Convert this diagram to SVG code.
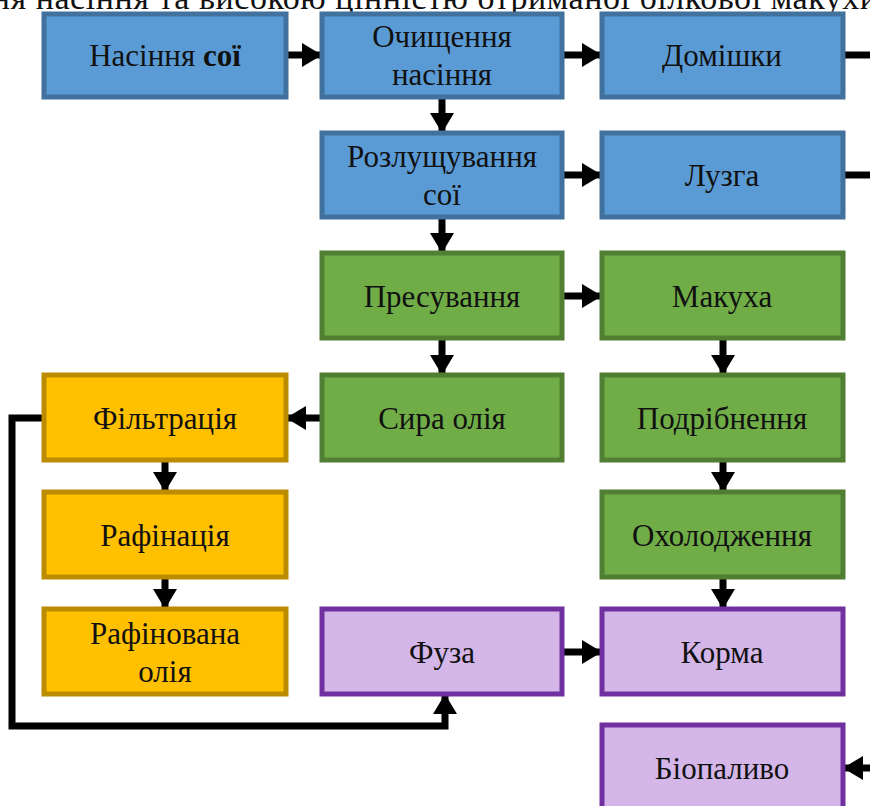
<svg xmlns="http://www.w3.org/2000/svg" width="870" height="806" viewBox="0 0 870 806">
<style>
  text { font-family: "Liberation Serif", "Times New Roman", serif; font-size: 31px; fill: #111111; text-anchor: middle; }
  .top { text-anchor: start; font-size: 34px; }
  .blue { fill: #5B9BD5; stroke: #41719C; stroke-width: 5; }
  .green { fill: #70AD47; stroke: #507E32; stroke-width: 5; }
  .gold { fill: #FFC000; stroke: #BC8C00; stroke-width: 5; }
  .lilac { fill: #D4B6E9; stroke: #7030A0; stroke-width: 5; }
  .conn { fill: none; stroke: #000000; stroke-width: 7; }
</style>
<defs>
  <marker id="ah" markerUnits="userSpaceOnUse" markerWidth="20" markerHeight="24" refX="20" refY="12" orient="auto">
    <path d="M0,0 L20,12 L0,24 Z" fill="#000000"/>
  </marker>
</defs>
<rect width="870" height="806" fill="#ffffff"/>
<text class="top" x="-27" y="9" textLength="905" lengthAdjust="spacing">ння насіння та високою цінністю отриманої білкової макухи</text>

<g id="connectors">
  <line class="conn" x1="286" y1="55" x2="322" y2="55" marker-end="url(#ah)"/>
  <line class="conn" x1="562" y1="55" x2="602" y2="55" marker-end="url(#ah)"/>
  <line class="conn" x1="843" y1="55" x2="870" y2="55"/>
  <line class="conn" x1="442" y1="97" x2="442" y2="133" marker-end="url(#ah)"/>
  <line class="conn" x1="562" y1="175" x2="602" y2="175" marker-end="url(#ah)"/>
  <line class="conn" x1="843" y1="175" x2="870" y2="175"/>
  <line class="conn" x1="442" y1="217" x2="442" y2="253" marker-end="url(#ah)"/>
  <line class="conn" x1="562" y1="296" x2="602" y2="296" marker-end="url(#ah)"/>
  <line class="conn" x1="442" y1="338" x2="442" y2="375" marker-end="url(#ah)"/>
  <line class="conn" x1="322" y1="418" x2="286" y2="418" marker-end="url(#ah)"/>
  <line class="conn" x1="723" y1="338" x2="723" y2="375" marker-end="url(#ah)"/>
  <line class="conn" x1="165" y1="460" x2="165" y2="492" marker-end="url(#ah)"/>
  <line class="conn" x1="723" y1="460" x2="723" y2="492" marker-end="url(#ah)"/>
  <line class="conn" x1="165" y1="577" x2="165" y2="609" marker-end="url(#ah)"/>
  <line class="conn" x1="723" y1="577" x2="723" y2="609" marker-end="url(#ah)"/>
  <line class="conn" x1="562" y1="652" x2="602" y2="652" marker-end="url(#ah)"/>
  <path class="conn" d="M44,418 H12 V726 H445 V694" marker-end="url(#ah)"/>
  <line class="conn" x1="870" y1="768" x2="843" y2="768" marker-end="url(#ah)"/>
</g>

<g id="n-nasinnia-soi"><rect class="blue" x="44" y="14" width="242" height="83"/><text x="165" y="66">Насіння <tspan font-weight="bold">сої</tspan></text></g>
<g id="n-ochyshchennia"><rect class="blue" x="322" y="14" width="240" height="83"/><text x="442" y="47">Очищення</text><text x="442" y="85">насіння</text></g>
<g id="n-domishky"><rect class="blue" x="602" y="14" width="241" height="83"/><text x="722" y="66">Домішки</text></g>
<g id="n-rozlushchuvannia"><rect class="blue" x="322" y="133" width="240" height="84"/><text x="442" y="167">Розлущування</text><text x="442" y="205">сої</text></g>
<g id="n-luzga"><rect class="blue" x="602" y="133" width="241" height="84"/><text x="722" y="186">Лузга</text></g>
<g id="n-presuvannia"><rect class="green" x="322" y="253" width="240" height="85"/><text x="442" y="307">Пресування</text></g>
<g id="n-makukha"><rect class="green" x="602" y="253" width="241" height="85"/><text x="722" y="307">Макуха</text></g>
<g id="n-syra-oliia"><rect class="green" x="322" y="375" width="240" height="85"/><text x="442" y="429">Сира олія</text></g>
<g id="n-filtratsiia"><rect class="gold" x="44" y="375" width="242" height="85"/><text x="165" y="429">Фільтрація</text></g>
<g id="n-podribnennia"><rect class="green" x="602" y="375" width="241" height="85"/><text x="722" y="429">Подрібнення</text></g>
<g id="n-rafinatsiia"><rect class="gold" x="44" y="492" width="242" height="85"/><text x="165" y="546">Рафінація</text></g>
<g id="n-okholodzhennia"><rect class="green" x="602" y="492" width="241" height="85"/><text x="722" y="546">Охолодження</text></g>
<g id="n-rafinovana"><rect class="gold" x="44" y="609" width="242" height="85"/><text x="165" y="644">Рафінована</text><text x="165" y="682">олія</text></g>
<g id="n-fuza"><rect class="lilac" x="322" y="609" width="240" height="85"/><text x="442" y="663">Фуза</text></g>
<g id="n-korma"><rect class="lilac" x="602" y="609" width="241" height="85"/><text x="722" y="663">Корма</text></g>
<g id="n-biopalyvo"><rect class="lilac" x="602" y="725" width="241" height="90"/><text x="722" y="779">Біопаливо</text></g>
</svg>
